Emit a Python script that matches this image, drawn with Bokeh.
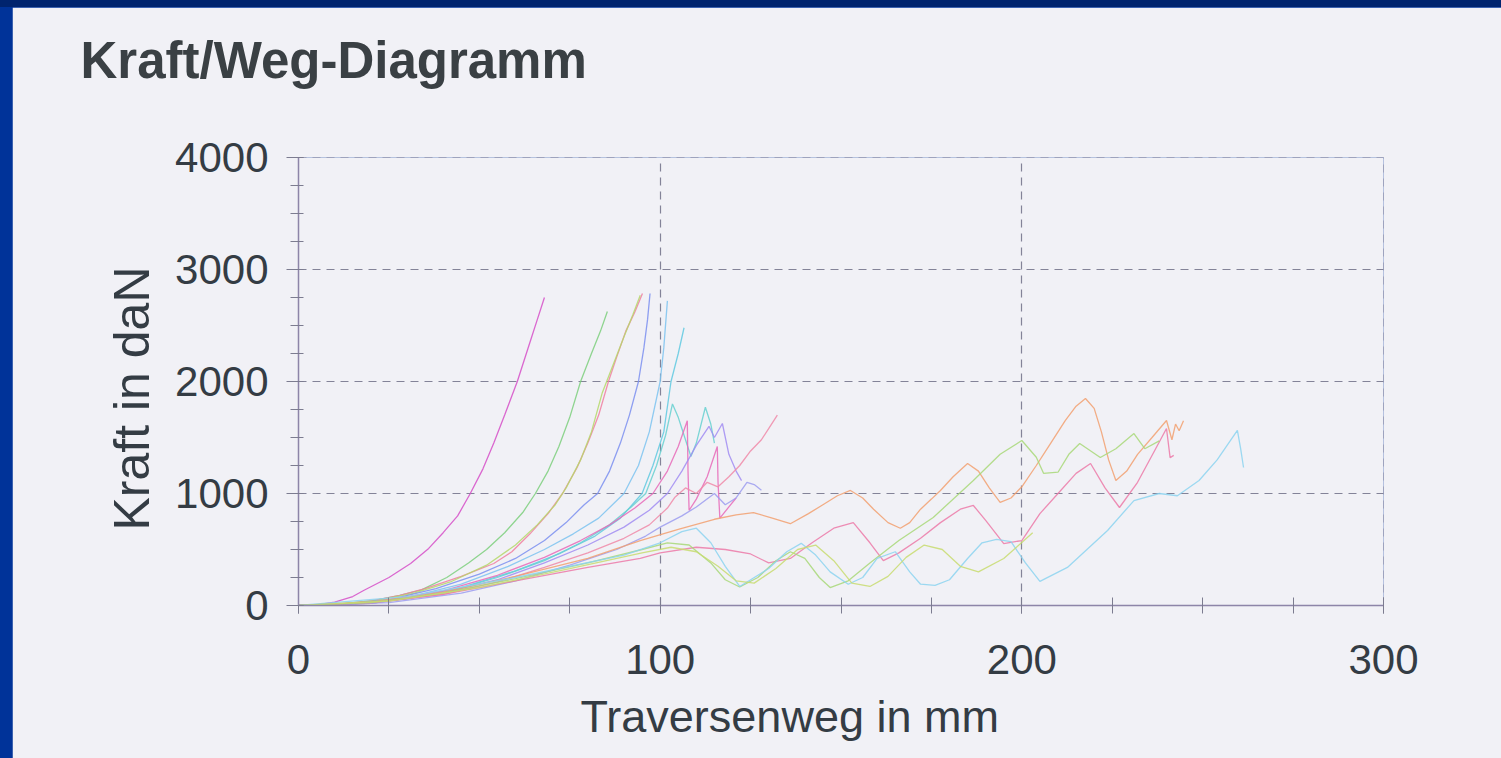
from bokeh.plotting import figure
from bokeh.models import FixedTicker, Range1d, Title, LinearAxis, GlobalInlineStyleSheet
from bokeh.embed import file_html
from bokeh.resources import INLINE

# ---------------- data ----------------
x_ticks = [0, 100, 200, 300]
x_minor = [0, 25, 50, 75, 100, 125, 150, 175, 200, 225, 250, 275, 300]
y_ticks = [0, 1000, 2000, 3000, 4000]
y_minor = [0, 250, 500, 750, 1000, 1250, 1500, 1750, 2000, 2250, 2500, 2750,
           3000, 3250, 3500, 3750, 4000]

a_x = [0, 5, 10, 15, 18, 25, 31, 36, 40, 44, 47.5, 51, 54, 57, 60.5, 64, 66, 68]
a_y = [0, 5, 30, 80, 134, 250, 375, 510, 650, 800, 1000, 1220, 1450, 1700, 2000, 2350, 2550, 2750]

b_x = [0, 10, 20, 28, 34, 41, 47, 52, 57, 62, 65.5, 69, 72, 75, 78, 81, 83.5, 85.4]
b_y = [0, 10, 40, 90, 140, 250, 380, 500, 650, 830, 1000, 1200, 1420, 1680, 2000, 2250, 2450, 2625]

c_x = [0, 10, 20, 28, 35, 45, 54, 59, 64, 69, 73, 77, 80, 83, 85.7, 88, 90.5, 93, 95.1]
c_y = [0, 8, 40, 90, 150, 260, 375, 480, 640, 820, 1000, 1230, 1450, 1700, 2000, 2220, 2450, 2620, 2786]

d_x = [0, 12, 22, 32, 42, 52, 60, 66, 71, 74, 78, 81, 84, 87, 90, 92.5, 94.5]
d_y = [0, 10, 45, 110, 210, 360, 540, 720, 900, 1050, 1300, 1550, 1900, 2150, 2400, 2600, 2770]

e_x = [0, 12, 25, 38, 50, 60, 68, 74, 79, 82.7, 86, 89, 91.5, 94, 95.5, 96.5, 97.2]
e_y = [0, 10, 50, 150, 280, 420, 580, 740, 900, 1000, 1200, 1450, 1700, 2000, 2300, 2550, 2786]

f_x = [0, 15, 30, 45, 58, 68, 76, 83, 90, 94, 97, 100, 101, 102]
f_y = [0, 15, 70, 190, 350, 500, 640, 780, 1000, 1250, 1550, 2000, 2300, 2720]

g_x = [0, 15, 30, 45, 60, 72, 82, 89, 95, 98, 101, 103, 105, 106.6]
g_y = [0, 12, 60, 160, 310, 460, 620, 780, 1000, 1250, 1550, 2000, 2250, 2480]

h_x = [0, 20, 40, 55, 68, 78, 86, 92, 96, 99, 101.5, 103.4, 105, 107, 108.5, 110, 112.5, 114, 115]
h_y = [0, 20, 110, 250, 400, 560, 720, 880, 1000, 1250, 1520, 1800, 1680, 1480, 1330, 1450, 1770, 1620, 1450]

i_x = [0, 20, 40, 55, 68, 78, 86, 93, 98, 102, 105, 107.5, 107.7, 108, 110, 113, 115.8, 116, 116.5, 119, 121]
i_y = [0, 25, 130, 270, 430, 580, 720, 870, 1000, 1200, 1420, 1650, 1200, 850, 950, 1150, 1420, 1100, 780, 880, 960]

j_x = [0, 20, 40, 55, 68, 80, 90, 97, 102, 106, 110, 113.5, 115, 117.2, 119, 121, 122.5]
j_y = [0, 20, 110, 230, 380, 540, 700, 850, 1000, 1200, 1430, 1600, 1500, 1625, 1350, 1200, 1115]

k_x = [0, 20, 40, 55, 68, 80, 90, 97, 102, 104, 107, 110, 113, 116, 119, 122, 125, 128, 130, 132.4]
k_y = [0, 20, 100, 210, 340, 470, 600, 720, 870, 964, 1050, 1000, 1100, 1060, 1150, 1250, 1380, 1480, 1580, 1700]

l_x = [0, 25, 45, 60, 75, 88, 96, 100, 106, 110, 115, 118, 121, 124, 126, 128]
l_y = [0, 25, 110, 220, 360, 500, 620, 700, 800, 880, 1000, 900, 960, 1100, 1080, 1030]

p1_x = [0, 20, 40, 60, 80, 94.5, 105, 115, 121, 125.8, 131, 136, 141, 145, 149, 152.6, 156, 159,
        163, 166.4, 169, 172, 175, 177.5, 181, 185, 188, 191, 194, 197, 200, 204, 208, 212, 215,
        217.6, 220, 222, 224, 226, 229, 232, 236, 240, 241.5, 242.5, 243.5, 244.7]
p1_y = [0, 30, 120, 260, 420, 580, 680, 770, 810, 830, 780, 730, 820, 900, 980, 1027, 960, 860,
        740, 690, 740, 860, 950, 1027, 1150, 1268, 1200, 1050, 920, 960, 1060, 1250, 1450, 1650, 1780,
        1848, 1760, 1550, 1300, 1116, 1200, 1350, 1500, 1652, 1480, 1620, 1560, 1650]

p2_x = [0, 20, 40, 60, 80, 94.5, 100, 110, 118, 125, 130, 136, 142, 148, 153.4, 158, 161.7, 166,
        172, 177.5, 183, 186.6, 190, 195, 200, 205, 210, 215, 219, 223, 227, 232, 237, 240, 241, 242]
p2_y = [0, 25, 100, 220, 340, 420, 470, 520, 500, 460, 380, 420, 560, 690, 740, 560, 400, 470,
        600, 740, 860, 893, 760, 553, 580, 820, 1000, 1180, 1268, 1050, 875, 1100, 1400, 1580, 1320, 1340]

p3_x = [0, 20, 40, 60, 80, 95, 102, 108, 114, 118, 122, 127, 132, 136, 140, 144, 147, 152, 158,
        166, 175.5, 186.6, 194, 200, 204, 206, 210, 213, 216, 221.7, 226, 231, 234, 238]
p3_y = [0, 25, 110, 240, 380, 500, 560, 540, 380, 230, 165, 250, 400, 480, 420, 250, 160, 220, 380,
        580, 786, 1116, 1350, 1473, 1324, 1180, 1190, 1350, 1446, 1321, 1400, 1535, 1400, 1470]

q1_x = [0, 30, 60, 90, 100, 106, 110, 114, 118, 122, 130, 135, 139, 143, 147, 152, 156, 160, 165,
        169, 172, 176, 180, 185, 189, 193, 197, 201, 205, 212.6, 218, 223.7, 231, 238, 243, 249, 254,
        259.6, 260.5, 261.3]
q1_y = [0, 80, 250, 450, 560, 660, 690, 560, 350, 170, 330, 480, 555, 450, 300, 190, 250, 420, 480,
        300, 190, 180, 230, 420, 560, 590, 570, 380, 215, 340, 500, 670, 937, 1000, 980, 1116, 1300,
        1563, 1400, 1232]

q2_x = [0, 25, 50, 75, 95, 103, 110, 116, 121, 126, 132, 138, 143, 148, 153, 158, 163, 168, 173,
        178, 183, 188, 195, 203]
q2_y = [0, 40, 160, 330, 470, 520, 480, 350, 220, 200, 330, 500, 540, 400, 200, 170, 260, 430, 540,
        500, 350, 300, 420, 650]

series_x = [a_x, b_x, c_x, d_x, e_x, f_x, g_x, h_x, i_x, j_x, k_x, l_x, p1_x, p2_x, p3_x, q1_x, q2_x]
series_y = [a_y, b_y, c_y, d_y, e_y, f_y, g_y, h_y, i_y, j_y, k_y, l_y, p1_y, p2_y, p3_y, q1_y, q2_y]
series_colors = ["#d64fc8", "#7ccf7c", "#f07fa0", "#b5d86a", "#7b8ff0", "#7cc3f0", "#5fc9e0",
                 "#66d0d0", "#e86ab8", "#a18cf2", "#f08aa8", "#9c9cf0", "#f2a070", "#ec7aa8",
                 "#a8d878", "#8cd4f0", "#c8dc70"]

title_text = "Kraft/Weg-Diagramm"
x_title = "Traversenweg in mm"
y_title = "Kraft in daN"

# ---------------- figure ----------------
BG = "#f1f1f6"
TXT = "#343c44"
FONT = "Liberation Sans"

p = figure(width=1489, height=751, output_backend="svg", toolbar_location=None,
           x_range=Range1d(0, 300), y_range=Range1d(0, 4000),
           min_border_left=286, min_border_right=118, min_border_top=150, min_border_bottom=153)
p.background_fill_color = BG
p.border_fill_color = BG
p.outline_line_color = "#8a8aa2"
p.outline_line_dash = "8 6"
p.outline_line_alpha = 0.55

# the two real axes (taken before anything else is added to the sides)
xax = p.below[0]
yax = p.left[0]

# dark blue frame on the left and top of the page (page background)
css = ("body{padding:7px 0 0 12px !important;background-color:#003399 !important;"
       "background-image:linear-gradient(#00246e,#00246e);"
       "background-size:100% 7px;background-repeat:no-repeat;}")
p.stylesheets = [GlobalInlineStyleSheet(css=css)]

# grid
p.xgrid.ticker = FixedTicker(ticks=x_ticks[1:])
p.ygrid.ticker = FixedTicker(ticks=y_ticks[1:])
for g in (p.xgrid, p.ygrid):
    g.grid_line_color = "#5e5e78"
    g.grid_line_dash = "8 6"
    g.grid_line_alpha = 0.75
    g.grid_line_width = 1.2

# axes
xax.ticker = FixedTicker(ticks=x_ticks, minor_ticks=x_minor)
yax.ticker = FixedTicker(ticks=y_ticks, minor_ticks=y_minor)
for ax in (xax, yax):
    ax.axis_line_color = "#8d85a8"
    ax.axis_line_width = 1.5
    ax.major_tick_line_color = "#7c7c90"
    ax.minor_tick_line_color = "#7c7c90"
    ax.major_label_text_font = FONT
    ax.major_label_text_font_size = "42px"
    ax.major_label_text_color = TXT
xax.major_tick_in = 8
xax.major_tick_out = 8
xax.minor_tick_in = 8
xax.minor_tick_out = 8
xax.major_label_standoff = 31
yax.major_tick_in = 5
yax.major_tick_out = 12
yax.minor_tick_in = 5
yax.minor_tick_out = 8
yax.major_label_standoff = 18

# invisible spacer between plot area and main title (one background-coloured tick, no label)
spacer = LinearAxis(ticker=FixedTicker(ticks=[0]), axis_line_color=None,
                    major_tick_line_color=BG, minor_tick_line_color=None,
                    major_tick_in=0, major_tick_out=50, minor_tick_in=0, minor_tick_out=0,
                    major_label_standoff=0, major_label_overrides={0: ""},
                    major_label_text_font_size="1px", major_label_text_alpha=0)
p.add_layout(spacer, "above")

# main title
p.add_layout(Title(text=title_text, align="left", offset=-218, standoff=37,
                   text_font=FONT, text_font_size="51px", text_font_style="bold",
                   text_color="#3a4044"), "above")

# axis titles as side titles (allows exact placement)
p.add_layout(Title(text=x_title, align="left", offset=282, standoff=24,
                   text_font=FONT, text_font_size="45px", text_font_style="normal",
                   text_color=TXT), "below")
p.add_layout(Title(text=y_title, align="left", offset=75, standoff=26,
                   text_font=FONT, text_font_size="50px", text_font_style="normal",
                   text_color=TXT), "left")

# curves
for xs, ys, col in zip(series_x, series_y, series_colors):
    p.line(xs, ys, line_color=col, line_width=1.3, line_alpha=0.85)

open("out.html", "w").write(file_html(p, INLINE))
